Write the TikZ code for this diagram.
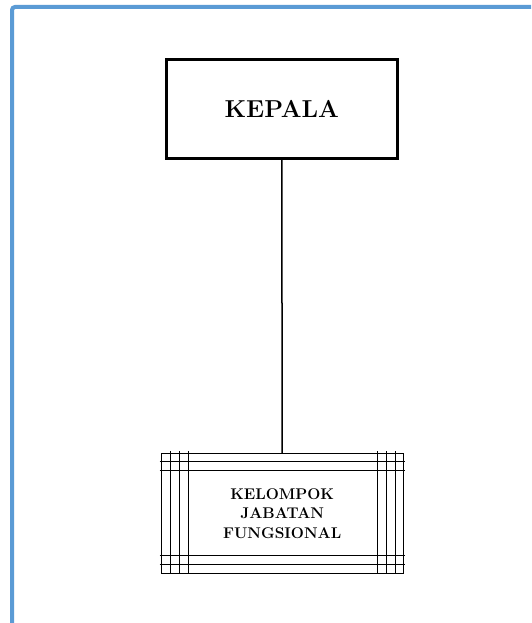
\documentclass[tikz,border=0pt]{standalone}
\definecolor{framblue}{RGB}{91,155,213}
\tikzset{
  headbox/.style={draw, line width=2.6pt, minimum width=231pt, minimum height=99.4pt, inner sep=0pt,
    font=\fontsize{24.5}{28}\selectfont\bfseries},
  groupbox/.style={draw, line width=0.8pt, minimum width=242.3pt, minimum height=119.7pt, inner sep=0pt,
    align=center, font=\fontsize{15.5}{19.5}\selectfont\bfseries},
  gridline/.style={line width=0.8pt},
  link/.style={line width=1.5pt},
  outerframe/.style={draw=framblue, line width=4pt, rounded corners=3pt}
}
\begin{document}
\begin{tikzpicture}[x=1pt,y=-1pt]
\useasboundingbox (0,0) rectangle (531,623);
\clip (0,0) rectangle (531,623);
\draw[outerframe] (12,650) -- (12,7) -- (560,7);
\node[headbox] (kepala) at (281.8,109) {KEPALA};
\node[groupbox] (kjf) at (282.2,513.2) {KELOMPOK\\JABATAN\\FUNGSIONAL};
% inner double/triple rules of the group box
\foreach \yy in {461.7,470.7,555,564.3} {
  \draw[gridline] (159.5,\yy) -- (404.8,\yy);
}
\foreach \xx in {170,179,188,377.3,386.7,395.3} {
  \draw[gridline] (\xx,451) -- (\xx,574);
}
\draw[link] (kepala.south) -- (kjf.north);
\end{tikzpicture}
\end{document}
